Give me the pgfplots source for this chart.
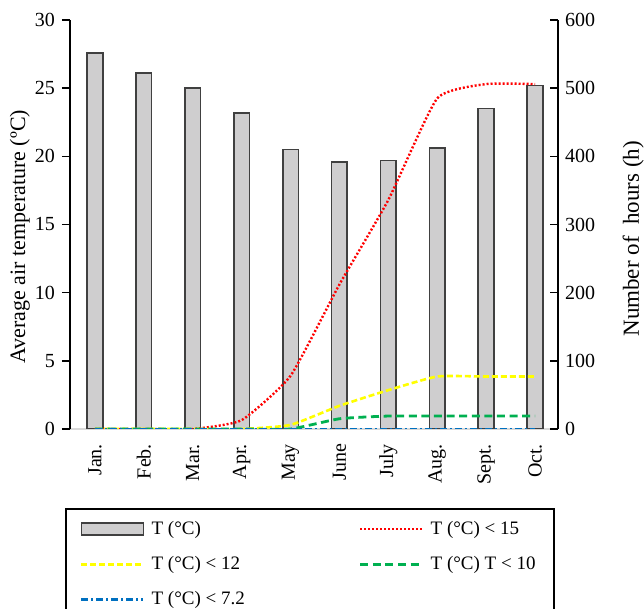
\documentclass[border=0pt]{standalone}
\usepackage{fontspec}
\setmainfont{Liberation Serif}
\usepackage{pgfplots}
\pgfplotsset{compat=1.18}
\definecolor{barfill}{RGB}{207,206,207}
\definecolor{bardraw}{RGB}{64,64,64}
\definecolor{axgray}{RGB}{217,217,217}
\definecolor{lred}{RGB}{255,0,0}
\definecolor{lyellow}{RGB}{255,255,0}
\definecolor{lgreen}{RGB}{0,176,80}
\definecolor{lblue}{RGB}{0,112,192}
\begin{document}
\begin{tikzpicture}
\begin{axis}[name=ax, scale only axis, width=244pt, height=204.5pt,
  xmin=-0.51, xmax=9.47, ymin=0, ymax=30,
  axis y line*=left, axis x line*=bottom,
  x axis line style={draw=axgray, line width=1pt, -},
  y axis line style={line width=0.75pt, -},
  xtick=data, xticklabels={Jan.,Feb.,Mar.,Apr.,May,June,July,Aug.,Sept.,Oct.},
  x tick style={draw=none},
  xticklabel style={rotate=90, anchor=east},
  ytick={0,5,...,30}, y tick style={black, line width=0.75pt},
  tick align=outside, major tick length=4pt,
  /pgf/number format/assume math mode=true,
  every axis y label/.style={at={(axis description cs:-0.1025,0.47)}, rotate=90, anchor=center,
    font=\fontsize{11}{13}\selectfont},
  ylabel={Average air temperature (ºC)},
]
\addplot[ybar, bar width=0.32, fill=barfill, draw=bardraw, line width=0.8pt] coordinates {
  (0,27.6) (1,26.1) (2,25.0) (3,23.2) (4,20.5) (5,19.6) (6,19.7) (7,20.6) (8,23.5) (9,25.2)};
\end{axis}
\begin{axis}[scale only axis, width=244pt, height=204.5pt,
  xmin=-0.51, xmax=9.47, ymin=0, ymax=600,
  axis y line*=right, axis x line=none,
  ytick={0,100,...,600}, tick align=inside, major tick length=4pt,
  y axis line style={line width=0.75pt, -}, y tick style={black, line width=0.75pt},
  /pgf/number format/assume math mode=true,
  every axis y label/.style={at={(axis description cs:1.154,0.465)}, rotate=90, anchor=center,
    font=\fontsize{11.5}{14}\selectfont},
  ylabel={Number of\ \ hours (h)},
  legend columns=2,
  legend style={at={(axis description cs:-0.0102,-0.193)}, anchor=north west,
    draw=black, line width=1pt, cells={anchor=west}, inner xsep=7pt, inner ysep=4pt,
    font=\fontsize{9.5}{11}\selectfont,
    /tikz/every odd column/.append style={column sep=1.5pt},
    /tikz/every even column/.append style={column sep=55pt}, row sep=5.5pt},
  legend image code/.code={\draw[#1] (0pt,0pt) -- (31pt,0pt);},
]
\addlegendimage{legend image code/.code={\draw[fill=barfill, draw=bardraw, line width=0.8pt] (0pt,-2.9pt) rectangle (31pt,2.9pt);}}
\addlegendentry{T (°C)}
\addplot[lred, line width=1.2pt, dash pattern=on 1pt off 1pt, smooth, tension=0.3] coordinates {
  (0,0) (1,0) (2,0) (3,13) (4,78) (5,212) (6,336) (7,485) (8,506) (9,506)};
\addlegendentry{T (°C) < 15}
\addplot[lyellow, line width=1.3pt, dash pattern=on 3pt off 1.5pt, smooth, tension=0.3] coordinates {
  (0,0) (1,0) (2,0) (3,0) (4,6) (5,34) (6,57) (7,77) (8,77) (9,77)};
\addlegendentry{T (°C) < 12}
\addplot[lgreen, line width=1.4pt, dash pattern=on 4pt off 2.3pt, smooth, tension=0.3] coordinates {
  (0,0) (1,0) (2,0) (3,0) (4,0) (5,15) (6,19) (7,19) (8,19) (9,19)};
\addlegendentry{T (°C) T < 10}
\addplot[lblue, line width=1.3pt, dash pattern=on 3.5pt off 1.5pt on 1pt off 1.5pt] coordinates {
  (0,0) (1,0) (2,0) (3,0) (4,0) (5,0) (6,0) (7,0) (8,0) (9,0)};
\addlegendentry{T (°C) < 7.2}
\end{axis}
\pgfresetboundingbox
\path[use as bounding box] ([shift={(-35pt,-90pt)}]ax.south west) rectangle ([shift={(43pt,10pt)}]ax.north east);
\end{tikzpicture}
\end{document}
